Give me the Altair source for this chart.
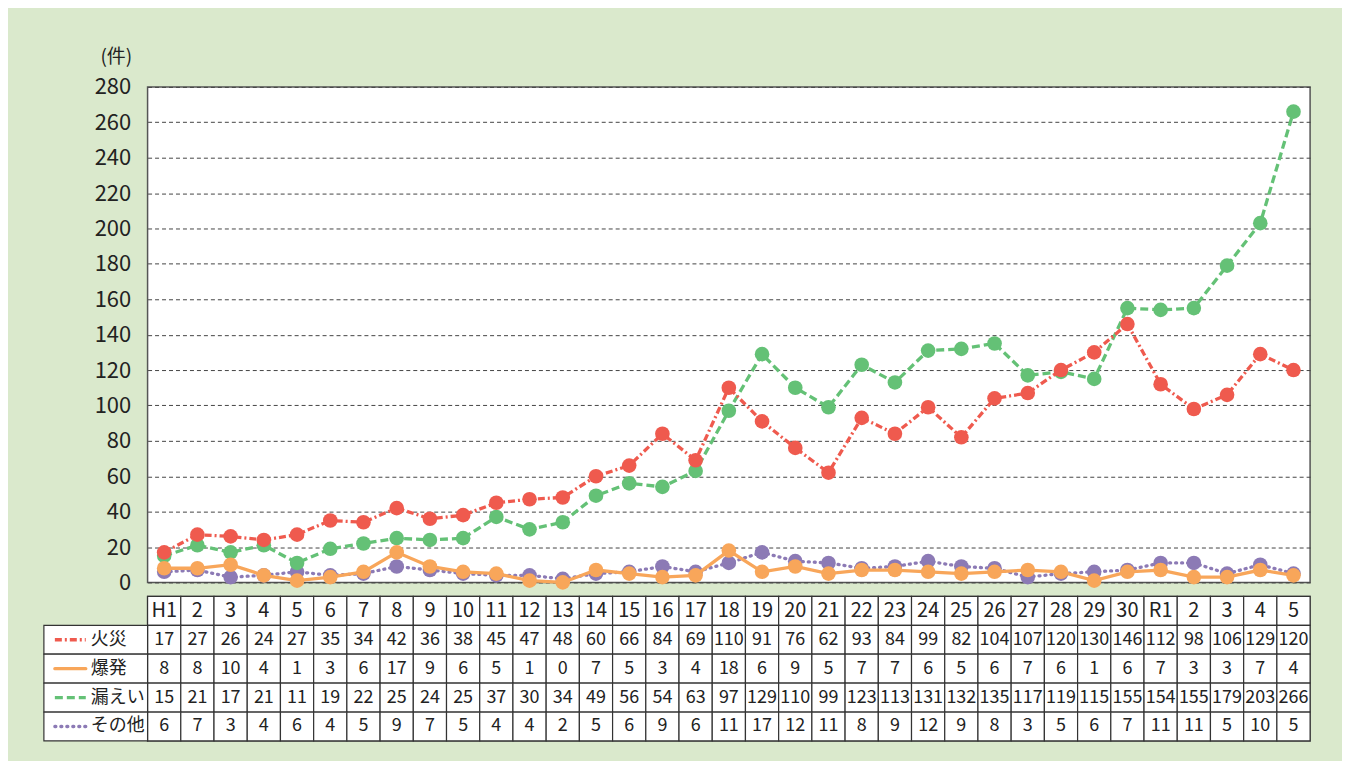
import altair as alt
import pandas as pd

F = "Noto Sans CJK JP"

labels = ["H1", "2", "3", "4", "5", "6", "7", "8", "9", "10",
          "11", "12", "13", "14", "15", "16", "17", "18", "19", "20",
          "21", "22", "23", "24", "25", "26", "27", "28", "29", "30",
          "R1", "2", "3", "4", "5"]
series = ["火災", "爆発", "漏えい", "その他"]
fire = [17, 27, 26, 24, 27, 35, 34, 42, 36, 38, 45, 47, 48, 60, 66, 84, 69, 110, 91, 76,
        62, 93, 84, 99, 82, 104, 107, 120, 130, 146, 112, 98, 106, 129, 120]
explosion = [8, 8, 10, 4, 1, 3, 6, 17, 9, 6, 5, 1, 0, 7, 5, 3, 4, 18, 6, 9,
             5, 7, 7, 6, 5, 6, 7, 6, 1, 6, 7, 3, 3, 7, 4]
leak = [15, 21, 17, 21, 11, 19, 22, 25, 24, 25, 37, 30, 34, 49, 56, 54, 63, 97, 129, 110,
        99, 123, 113, 131, 132, 135, 117, 119, 115, 155, 154, 155, 179, 203, 266]
other = [6, 7, 3, 4, 6, 4, 5, 9, 7, 5, 4, 4, 2, 5, 6, 9, 6, 11, 17, 12,
         11, 8, 9, 12, 9, 8, 3, 5, 6, 7, 11, 11, 5, 10, 5]
y_ticks = list(range(0, 281, 20))

colors = ["#ef5a4e", "#f8a65a", "#64c176", "#8c7ab5"]
dashes = [[7, 3, 2, 3], None, [8, 4], [1, 5]]
caps = ["butt", "round", "butt", "round"]

keys = [f"{i:02d}" for i in range(len(labels))]
values = [fire, explosion, leak, other]

recs = []
for s, vals in zip(series, values):
    for k, l, v in zip(keys, labels, vals):
        recs.append({"key": k, "label": l, "series": s, "value": v})
df = pd.DataFrame(recs)

W, H, RH = 1166, 497, 29

xp = alt.X("key:O", scale=alt.Scale(type="point", padding=0.5), axis=None)
yv = alt.Y("value:Q", scale=alt.Scale(domain=[0, 280], nice=False),
           axis=alt.Axis(values=y_ticks, title="(件)", titleAngle=0, titleX=-16, titleY=-20,
                         titleAlign="right", titleBaseline="bottom", titleFontSize=19,
                         titleFont=F, titleFontWeight="normal", titleColor="#222",
                         labelFont=F, labelFontSize=22, labelColor="#222", labelPadding=17,
                         ticks=False, domain=False, grid=True, gridDash=[4, 3],
                         gridColor="#444", gridWidth=1))


def stroke_args(i):
    args = dict(color=colors[i], strokeWidth=3.3, strokeCap=caps[i])
    if dashes[i]:
        args["strokeDash"] = dashes[i]
    return args


layers = []
for i in [3, 2, 0, 1]:
    sub = df[df.series == series[i]]
    base = alt.Chart(sub).encode(x=xp, y=yv)
    layers.append(base.mark_line(**stroke_args(i)))
    layers.append(base.mark_circle(color=colors[i], size=215, opacity=1))
top = alt.layer(*layers).properties(width=W, height=H)

# table
row_order = ["hdr"] + series
trecs = []
for k, l in zip(keys, labels):
    trecs.append({"key": k, "row": "hdr", "text": l})
for s, vals in zip(series, values):
    for k, v in zip(keys, vals):
        trecs.append({"key": k, "row": s, "text": str(v)})
tdf = pd.DataFrame(trecs)

xt = alt.X("key:O", scale=alt.Scale(type="band", paddingInner=0, paddingOuter=0), axis=None)
yt = alt.Y("row:N", sort=row_order,
           scale=alt.Scale(domain=row_order, paddingInner=0, paddingOuter=0), axis=None)

cells = alt.Chart(tdf).mark_rect(fill="white", stroke="#333", strokeWidth=1.2).encode(x=xt, y=yt)
hdr_text = alt.Chart(tdf).transform_filter(alt.datum.row == "hdr").mark_text(
    font=F, fontSize=20, color="#222", baseline="middle").encode(x=xt, y=yt, text="text:N")
val_text = alt.Chart(tdf).transform_filter(alt.datum.row != "hdr").mark_text(
    font=F, fontSize=18, color="#222", baseline="middle").encode(x=xt, y=yt, text="text:N")

ldf = pd.DataFrame({"row": series})
lrect = alt.Chart(ldf).mark_rect(fill="white", stroke="#333", strokeWidth=1.2).encode(
    x=alt.value(-104), x2=alt.value(0), y=yt)
ltext = alt.Chart(ldf).mark_text(font=F, fontSize=18, color="#222", align="left",
                                 baseline="middle").encode(x=alt.value(-57), y=yt, text="row:N")
swatches = []
for i, s in enumerate(series):
    d = ldf[ldf.row == s]
    swatches.append(alt.Chart(d).mark_rule(**stroke_args(i)).encode(
        x=alt.value(-93), x2=alt.value(-62), y=yt))

table = alt.layer(cells, hdr_text, val_text, lrect, ltext, *swatches).properties(
    width=W, height=RH * 5)

chart = alt.vconcat(top, table, spacing=0).properties(
    padding={"left": 34, "right": 30, "top": 38, "bottom": 26},
    background="#dae9cc",
).configure(font=F).configure_view(fill="white", stroke="#555", strokeWidth=1.5)

chart.save("out.html", embed_options={"renderer": "svg", "actions": False})
